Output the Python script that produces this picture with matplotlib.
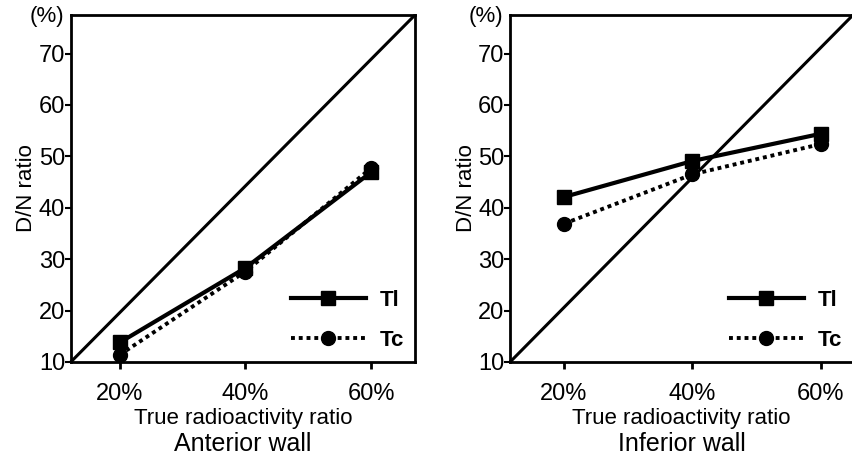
import numpy as np
import matplotlib
matplotlib.use("Agg")
import matplotlib.pyplot as plt

plt.rcParams['font.family'] = ['Liberation Sans', 'DejaVu Sans']

# Data
x_pct = [20, 40, 60]
x_labels = ["20%", "40%", "60%"]
y_ticks = [10, 20, 30, 40, 50, 60, 70]

ant_tl = [13.8, 28.3, 46.9]
ant_tc = [11.4, 27.6, 47.7]
inf_tl = [42.1, 49.1, 54.4]
inf_tc = [36.9, 46.5, 52.4]

panels = [
    ("Anterior wall", ant_tl, ant_tc, (12.2, 67.0)),
    ("Inferior wall", inf_tl, inf_tc, (11.6, 65.0)),
]

fig = plt.figure(figsize=(8.53, 4.62), dpi=100)
boxes = [[0.083, 0.2165, 0.4035, 0.751], [0.598, 0.2165, 0.402, 0.751]]

for box, (title, tl, tc, xl) in zip(boxes, panels):
    ax = fig.add_axes(box)
    # reference diagonal, corner to corner
    ax.plot([0, 1], [0, 1], transform=ax.transAxes, color="black", lw=2.2,
            solid_capstyle="butt", clip_on=False)
    ax.plot(x_pct, tl, color="black", lw=3.0, marker="s", markersize=10.5,
            label="Tl")
    ax.plot(x_pct, tc, color="black", lw=2.8, linestyle=(0, (1.0, 1.0)),
            marker="o", markersize=10, label="Tc")
    ax.set_xlim(*xl)
    ax.set_ylim(10, 77.5)
    ax.set_xticks(x_pct)
    ax.set_xticklabels(x_labels, fontsize=17)
    ax.set_yticks(y_ticks)
    ax.set_yticklabels([str(v) for v in y_ticks], fontsize=17)
    ax.tick_params(axis="x", direction="out", length=5, width=2, pad=10)
    ax.tick_params(axis="y", direction="out", length=4, width=1.5, pad=0)
    for s in ax.spines.values():
        s.set_linewidth(2.0)
    ax.set_ylabel("D/N ratio", fontsize=16, labelpad=1)
    ax.set_xlabel("True radioactivity ratio", fontsize=16, labelpad=2)
    ax.text(0.5, -0.235, title, transform=ax.transAxes, ha="center",
            va="center", fontsize=18)
    ax.text(-0.02, 0.995, "(%)", transform=ax.transAxes, ha="right",
            va="center", fontsize=16)
    ax.legend(loc="lower right", frameon=False, handlelength=3.4,
              labelspacing=0.85, borderaxespad=0.1, handletextpad=0.6,
              prop={"weight": "bold", "size": 16})

fig.savefig("out.png", dpi=100)
